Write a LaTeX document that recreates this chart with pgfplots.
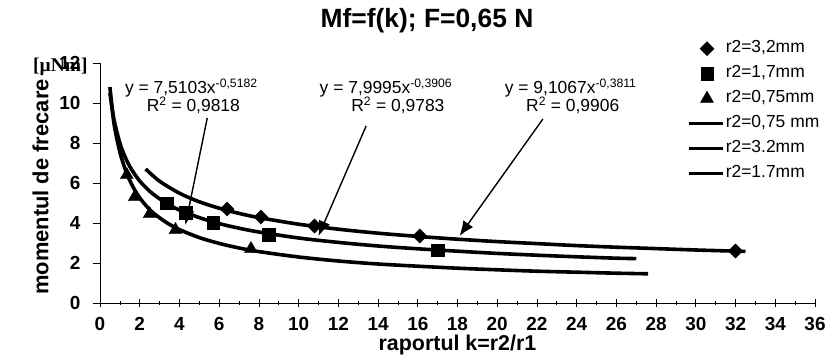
\documentclass[border=0pt]{standalone}
\usepackage{fontspec}
\setmainfont{Liberation Sans}
\newfontfamily\unitfont{Liberation Serif}
\usepackage{pgfplots}
\pgfplotsset{compat=1.18}
\usetikzlibrary{arrows.meta}

\pgfplotsset{
  markimg/.style={legend image code/.code={\path (0bp,0bp) (34bp,0bp); \draw[##1] plot coordinates {(18bp,0bp)};}},
  lineimg/.style={legend image code/.code={\draw[##1] (0bp,0bp) -- (34bp,0bp);}},
}

% measured friction moment, r2 = 3.2 mm
\pgfplotstableread{
x y
6.4 4.70
8.1 4.30
10.8 3.85
16.1 3.35
32.0 2.60
}\ptsA
% r2 = 1.7 mm
\pgfplotstableread{
x y
3.35 4.98
4.3 4.50
5.7 4.00
8.5 3.42
17.0 2.65
}\ptsB
% r2 = 0.75 mm
\pgfplotstableread{
x y
1.35 6.40
1.75 5.30
2.5 4.45
3.8 3.65
7.6 2.70
}\ptsC
% power trend lines
\pgfplotstableread{
x y
0.5 10.8
0.7 9.0
1.0 7.55
1.3 6.6
1.6 5.92
2.0 5.26
2.5 4.67
3.0 4.26
3.5 3.93
4.0 3.67
5.0 3.27
6.0 2.98
7.0 2.75
8.0 2.57
10.0 2.30
12.0 2.10
14.0 1.95
16.0 1.84
18.0 1.74
20.0 1.66
22.0 1.59
24.0 1.54
26.0 1.49
27.6 1.46
}\fitC
\pgfplotstableread{
x y
2.3 6.70
3.0 6.09
4.0 5.49
5.0 5.06
6.0 4.74
7.0 4.48
8.0 4.27
10.0 3.94
12.0 3.69
14.0 3.49
16.0 3.33
18.0 3.19
20.0 3.07
22.0 2.97
24.0 2.87
26.0 2.79
28.0 2.72
30.0 2.65
32.5 2.58
}\fitA
\pgfplotstableread{
x y
0.5 10.5
0.7 9.2
1.0 8.0
1.3 7.22
1.6 6.66
2.0 6.10
2.5 5.59
3.0 5.21
3.5 4.90
4.0 4.65
5.0 4.27
6.0 3.97
7.0 3.74
8.0 3.55
10.0 3.25
12.0 3.03
14.0 2.85
16.0 2.71
18.0 2.59
20.0 2.48
22.0 2.39
24.0 2.31
26.0 2.24
27.0 2.22
}\fitB

\begin{document}
\begin{tikzpicture}
\path[use as bounding box] (0,0) rectangle (831bp,360bp);
\begin{axis}[
  at={(100bp,57bp)}, anchor=south west,
  scale only axis, width=715bp, height=240bp,
  xmin=0, xmax=36, ymin=0, ymax=12,
  axis x line=bottom, axis y line=left,
  axis line style={-, line width=0.7pt},
  xtick={0,2,...,36}, minor x tick num=1,
  ytick={0,2,...,12},
  xtick align=center, ytick align=outside,
  major tick length=7bp, minor tick length=4bp,
  tick style={black, line width=0.7pt},
  /pgf/number format/assume math mode=true,
  ticklabel style={font=\fontsize{19}{19}\selectfont\bfseries},
  xticklabel style={yshift=-7bp},
  yticklabel style={xshift=-9bp},
  xlabel={raportul k=r2/r1},
  ylabel={momentul de frecare},
  xlabel style={font=\fontsize{21.5}{22}\selectfont\bfseries, yshift=2bp},
  ylabel style={font=\fontsize{22}{22}\selectfont\bfseries, yshift=4bp, xshift=-4bp},
  legend style={at={(0.821,1.095)}, anchor=north west, draw=none, fill=none,
    inner sep=0pt, column sep=0pt, row sep=8.5bp,
    font=\fontsize{17.5}{18}\selectfont,
    nodes={inner xsep=1bp, inner ysep=0pt, text height=12.5bp, text depth=4bp}},
  legend cell align=left,
]
\addplot[only marks, mark=square*, mark options={rotate=45}, mark size=5bp, black, markimg] table {\ptsA};
\addlegendentry{r2=3,2mm}
\addplot[only marks, mark=square*, mark size=6.3bp, black, markimg] table {\ptsB};
\addlegendentry{r2=1,7mm}
\addplot[only marks, mark=triangle*, mark size=7.5bp, black, markimg] table {\ptsC};
\addlegendentry{r2=0,75mm}
\addplot[black, line width=3.6bp, smooth, no marks, lineimg] table {\fitC};
\addlegendentry{r2=0,75 mm}
\addplot[black, line width=3.6bp, smooth, no marks, lineimg] table {\fitA};
\addlegendentry{r2=3.2mm}
\addplot[black, line width=3.6bp, smooth, no marks, lineimg] table {\fitB};
\addlegendentry{r2=1.7mm}

% trend line equations
\begin{scope}[every node/.style={font=\fontsize{17.5}{18}\selectfont, inner sep=0pt}]
\node at (axis cs:4.6,10.75) {y = 7,5103x\textsuperscript{-0,5182}};
\node at (axis cs:4.7,9.9) {R\textsuperscript{2} = 0,9818};
\node at (axis cs:14.4,10.75) {y = 7,9995x\textsuperscript{-0,3906}};
\node at (axis cs:15.0,9.9) {R\textsuperscript{2} = 0,9783};
\node at (axis cs:23.7,10.75) {y = 9,1067x\textsuperscript{-0,3811}};
\node at (axis cs:23.8,9.9) {R\textsuperscript{2} = 0,9906};
\end{scope}
\begin{scope}[line width=1.4bp, -{Latex[length=15bp,width=12bp]}]
\draw (axis cs:5.4,9.25) -- (axis cs:4.3,3.9);
\draw (axis cs:13.4,8.85) -- (axis cs:11.0,3.35);
\draw (axis cs:22.3,9.2) -- (axis cs:18.1,3.35);
\end{scope}
\end{axis}
\node[font=\fontsize{26.5}{27}\selectfont\bfseries] at (427bp,339bp) {Mf=f(k); F=0,65 N};
\node[font=\unitfont\fontsize{19.5}{20}\selectfont\bfseries, anchor=west, inner sep=0pt] at (33bp,293bp) {[µNm]};
\end{tikzpicture}
\end{document}
